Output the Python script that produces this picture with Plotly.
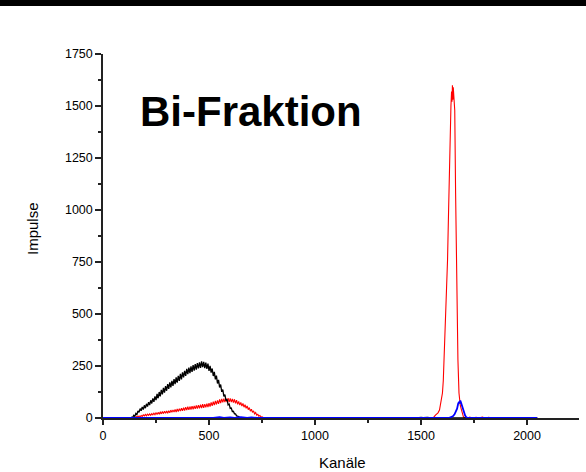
import plotly.graph_objects as go

# ---------------- data ----------------
black_ch = [0, 130, 135, 140, 145, 150, 155, 160, 165, 170, 175, 180, 185, 190, 195, 200,
            205, 210, 215, 220, 225, 230, 235, 240, 245, 250, 255, 260, 265, 270, 275, 280,
            285, 290, 295, 300, 305, 310, 315, 320, 325, 330, 335, 340, 345, 350, 355, 360,
            365, 370, 375, 380, 385, 390, 395, 400, 405, 410, 415, 420, 425, 430, 435, 440,
            445, 450, 455, 460, 465, 470, 475, 480, 485, 490, 495, 500, 505, 510, 515, 520,
            525, 530, 535, 540, 545, 550, 555, 560, 565, 570, 575, 580, 585, 590, 595, 600,
            605, 610, 615, 620, 625, 630, 635, 640, 645, 650, 660, 670,
            1480, 1490, 1500, 1510, 1520, 1530, 1540, 1550, 2048]
black_counts = [0, 0, 4, 2, 13, 8, 22, 17, 34, 27, 45, 35, 53, 41, 61, 47,
                68, 55, 76, 62, 85, 70, 94, 78, 104, 86, 116, 95, 125, 104, 135, 114,
                145, 122, 153, 131, 163, 140, 171, 147, 178, 154, 187, 163, 195, 170, 203, 178,
                212, 186, 219, 195, 227, 203, 236, 211, 242, 216, 248, 222, 254, 228, 259, 232,
                264, 238, 268, 241, 272, 244, 270, 240, 266, 236, 261, 227, 251, 218, 238, 202,
                222, 186, 204, 166, 183, 147, 161, 126, 137, 104, 113, 84, 89, 63, 67, 46,
                48, 31, 32, 20, 20, 10, 9, 4, 3, 2, 1, 0,
                0, 2, 3, 2, 4, 3, 2, 0, 0]

red_ch = [0, 140, 145, 150, 155, 160, 165, 170, 175, 180, 185, 190, 195, 200, 205, 210,
          215, 220, 225, 230, 235, 240, 245, 250, 255, 260, 265, 270, 275, 280, 285, 290,
          295, 300, 305, 310, 315, 320, 325, 330, 335, 340, 345, 350, 355, 360, 365, 370,
          375, 380, 385, 390, 395, 400, 405, 410, 415, 420, 425, 430, 435, 440, 445, 450,
          455, 460, 465, 470, 475, 480, 485, 490, 495, 500, 505, 510, 515, 520, 525, 530,
          535, 540, 545, 550, 555, 560, 565, 570, 575, 580, 585, 590, 595, 600, 605, 610,
          615, 620, 625, 630, 635, 640, 645, 650, 655, 660, 665, 670, 675, 680, 685, 690,
          695, 700, 705, 710, 715, 720, 725, 730, 735, 740, 745, 750, 755, 760,
          1540, 1550, 1560, 1568, 1580, 1587, 1595, 1601, 1605, 1609, 1615, 1620, 1625, 1630,
          1634, 1638, 1641, 1644, 1646, 1648, 1650, 1652, 1655, 1659, 1663, 1667, 1670, 1674,
          1679, 1685, 1691, 1696, 1700, 1705, 1710, 1720, 1730, 1740, 1760, 1770, 1790, 1800,
          1820, 1830, 2048]
red_counts = [0, 0, 2, 4, 2, 8, 4, 10, 6, 12, 8, 15, 10, 17, 11, 19,
              13, 20, 13, 21, 15, 23, 16, 25, 17, 27, 19, 28, 20, 31, 21, 32,
              23, 34, 23, 35, 25, 38, 27, 39, 29, 41, 29, 43, 31, 45, 33, 47,
              35, 50, 36, 52, 38, 54, 39, 55, 41, 57, 42, 58, 44, 60, 45, 62,
              46, 64, 48, 66, 49, 67, 51, 69, 53, 71, 55, 75, 58, 79, 62, 82,
              65, 85, 68, 89, 72, 92, 75, 93, 76, 94, 77, 95, 76, 94, 76, 92,
              74, 90, 70, 86, 66, 80, 62, 75, 57, 70, 52, 64, 47, 58, 40, 50,
              33, 42, 27, 34, 20, 26, 14, 18, 9, 12, 5, 6, 2, 0,
              0, 2, 4, 14, 25, 38, 80, 120, 180, 279, 450, 600, 760, 1000,
              1241, 1400, 1500, 1570, 1520, 1600, 1530, 1590, 1520, 1480, 1082, 760, 500, 279,
              120, 60, 38, 15, 5, 1, 3, 0, 4, 0, 3, 0, 4, 0,
              3, 0, 0]

blue_ch = [0, 400, 450, 470, 500, 520, 550, 570, 600, 620, 650, 680, 700, 730,
           1630, 1640, 1650, 1658, 1665, 1670, 1675, 1679, 1682, 1685, 1688, 1692, 1697,
           1702, 1708, 1714, 1720, 2048]
blue_counts = [0, 0, 2, 0, 3, 0, 4, 0, 3, 1, 4, 0, 3, 0,
               0, 3, 8, 18, 30, 45, 68, 78, 70, 84, 76, 62, 45,
               28, 12, 3, 0, 0]

title_text = "Bi-Fraktion"
x_title = "Kanäle"
y_title = "Impulse"
x_ticks = [0, 500, 1000, 1500, 2000]
y_ticks = [0, 250, 500, 750, 1000, 1250, 1500, 1750]

# ---------------- figure ----------------
W, H = 586, 472
ML, MR, MT, MB = 103, 7, 54, 54
PW, PH = W - ML - MR, H - MT - MB

def px_x(px):
    return (px - ML) / PW

def px_y(py):
    return (H - MB - py) / PH

fig = go.Figure()
fig.add_trace(go.Scatter(x=red_ch, y=red_counts, mode="lines",
                         line=dict(color="#ff0000", width=1.1), hoverinfo="skip"))
fig.add_trace(go.Scatter(x=black_ch, y=black_counts, mode="lines",
                         line=dict(color="#000000", width=1.3), hoverinfo="skip"))
fig.add_trace(go.Scatter(x=blue_ch, y=blue_counts, mode="lines",
                         line=dict(color="#0000ff", width=1.8), hoverinfo="skip"))

axis_font = dict(family="Liberation Sans, Arial, sans-serif", size=12.5, color="#000")

fig.update_layout(
    width=W, height=H,
    margin=dict(l=ML, r=MR, t=MT, b=MB, pad=0),
    paper_bgcolor="white", plot_bgcolor="white",
    showlegend=False,
    xaxis=dict(range=[0, 2245], tickvals=x_ticks, ticks="outside", ticklen=5,
               tickwidth=1.5, tickcolor="#222", showline=True, linecolor="#222",
               linewidth=1.5, showgrid=False, zeroline=False, tickfont=axis_font,
               minor=dict(dtick=250, tick0=0, ticks="outside", ticklen=3,
                          tickwidth=1.5, tickcolor="#222", showgrid=False)),
    yaxis=dict(range=[0, 1750], tickvals=y_ticks, ticks="outside", ticklen=6,
               tickwidth=1.5, tickcolor="#222", showline=True, linecolor="#222",
               linewidth=1.5, showgrid=False, zeroline=False, tickfont=axis_font,
               minor=dict(dtick=125, tick0=0, ticks="outside", ticklen=3,
                          tickwidth=1.5, tickcolor="#222", showgrid=False)),
    font=dict(family="Liberation Sans, Arial, sans-serif", color="#000"),
)

# black band at the very top of the page
fig.add_shape(type="rect", xref="paper", yref="paper",
              x0=px_x(0), x1=px_x(W), y0=px_y(6), y1=px_y(0),
              fillcolor="black", line=dict(width=0), layer="above")

fig.add_annotation(text="<b>" + title_text + "</b>", xref="paper", yref="paper",
                   x=px_x(138), y=px_y(111), xanchor="left", yanchor="middle",
                   showarrow=False,
                   font=dict(family="Liberation Sans, Arial, sans-serif", size=42, color="#000"))
fig.add_annotation(text=x_title, xref="paper", yref="paper",
                   x=px_x(342), y=px_y(462), xanchor="center", yanchor="middle",
                   showarrow=False,
                   font=dict(family="Liberation Sans, Arial, sans-serif", size=15, color="#000"))
fig.add_annotation(text=y_title, xref="paper", yref="paper",
                   x=px_x(33), y=px_y(229), xanchor="center", yanchor="middle",
                   textangle=-90, showarrow=False,
                   font=dict(family="Liberation Sans, Arial, sans-serif", size=15, color="#000"))

# remove the browser's default page margin so the figure sits at the window's corner
fig.write_html("out.html", config={"displayModeBar": False},
               post_script="document.body.style.margin='0px';")
